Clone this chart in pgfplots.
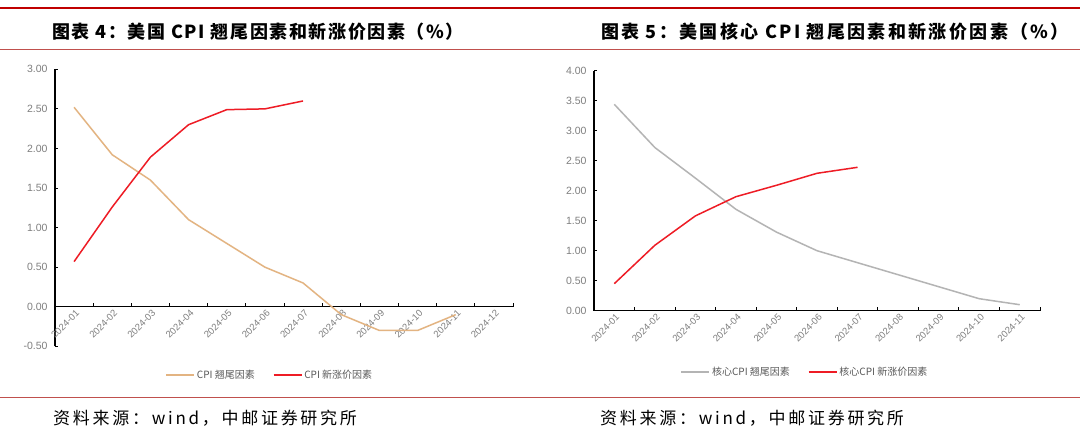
\documentclass[border=0pt]{standalone}
\usepackage{fontspec}
\usepackage{pgfplots}
\pgfplotsset{compat=1.18}
\setmainfont{Liberation Sans}
\newfontfamily\cjk{Noto Sans CJK SC}
\newfontfamily\cjktitle[LetterSpace=9]{Noto Sans CJK SC}
\newfontfamily\cjktitleb[LetterSpace=13]{Noto Sans CJK SC}
\newfontfamily\cjksrc[LetterSpace=16]{Noto Sans CJK SC}
\definecolor{tanline}{HTML}{E3B482}
\definecolor{lred}{HTML}{EE1C25}
\definecolor{lgray}{HTML}{B4B4B4}
\definecolor{topred}{HTML}{C00000}
\definecolor{thinred}{HTML}{C0504D}
\definecolor{ticklab}{HTML}{7F7F7F}
\definecolor{legtext}{HTML}{595959}
\pgfplotsset{
  mystyle/.style={
    scale only axis,
    axis y line*=left,
    tick align=inside,
    axis line style={black, line width=1.2pt},
    xtick={1,...,12},
    xticklabels={2024-01,2024-02,2024-03,2024-04,2024-05,2024-06,2024-07,2024-08,2024-09,2024-10,2024-11,2024-12},
    minor xtick={0.5,1.5,...,12.5},
    minor tick length=4pt,
    major tick length=3pt,
    every major x tick/.append style={draw=none},
    every minor x tick/.append style={black, line width=1pt},
    every major y tick/.append style={black, line width=1pt},
    hide obscured x ticks=false,
    hide obscured y ticks=false,
    /pgf/number format/assume math mode=true,
    yticklabel style={color=ticklab, font=\fontsize{10.5}{11}\selectfont, xshift=-4pt, /pgf/number format/.cd, fixed, fixed zerofill, precision=2},
    xticklabel style={color=ticklab, font=\fontsize{9.5}{10}\selectfont, rotate=45, anchor=east, inner sep=1pt, yshift=-6pt},
    legend style={draw=none, fill=none, legend columns=2, font=\cjk\fontsize{10}{11}\selectfont, text=legtext,
      /tikz/every even column/.append style={column sep=16pt}},
    legend image code/.code={\draw[#1] (0pt,0pt) -- (28pt,0pt);},
    every axis plot/.append style={line width=1.5pt, line join=round},
  }
}
\begin{document}
\begin{tikzpicture}
\useasboundingbox (0pt,0pt) rectangle (1080pt,442pt);
\fill[white] (0pt,0pt) rectangle (1080pt,442pt);
\draw[topred, line width=2.5pt] (0pt,434pt) -- (1080pt,434pt);
\draw[thinred, line width=0.8pt] (0pt,393pt) -- (1080pt,393pt);
\draw[thinred, line width=0.8pt] (0pt,45pt) -- (1080pt,45pt);
\node[anchor=west, inner sep=0pt] at (52pt,410pt) {\cjktitle\bfseries\fontsize{18}{21}\selectfont 图表 4：美国 CPI 翘尾因素和新涨价因素（\%）};
\node[anchor=west, inner sep=0pt] at (601pt,410pt) {\cjktitleb\bfseries\fontsize{18}{21}\selectfont 图表 5：美国核心 CPI 翘尾因素和新涨价因素（\%）};
\node[anchor=west, inner sep=0pt] at (53pt,24pt) {\cjksrc\fontsize{17}{20}\selectfont 资料来源：wind，中邮证券研究所};
\node[anchor=west, inner sep=0pt] at (600pt,24pt) {\cjksrc\fontsize{17}{20}\selectfont 资料来源：wind，中邮证券研究所};

\begin{axis}[mystyle, at={(55pt,95.7pt)}, anchor=south west, width=458pt, height=277pt,
  axis x line*=middle,
  xmin=0.5, xmax=12.5, ymin=-0.5, ymax=3,
  ytick={-0.5,0,0.5,1,1.5,2,2.5,3},
  legend style={at={(0.469,-0.104)}, anchor=center}]
\addplot[tanline] coordinates {(1,2.52)(2,1.92)(3,1.60)(4,1.10)(5,0.80)(6,0.50)(7,0.30)(8,-0.10)(9,-0.30)(10,-0.30)(11,-0.10)};
\addlegendentry{CPI 翘尾因素}
\addplot[lred] coordinates {(1,0.57)(2,1.26)(3,1.89)(4,2.30)(5,2.49)(6,2.50)(7,2.60)};
\addlegendentry{CPI 新涨价因素}
\end{axis}

\begin{axis}[mystyle, at={(594pt,131.3pt)}, anchor=south west, width=446pt, height=240pt,
  axis x line*=bottom,
  xmin=0.5, xmax=11.5, ymin=0, ymax=4,
  ytick={0,0.5,1,1.5,2,2.5,3,3.5,4},
  legend style={at={(0.473,-0.255)}, anchor=center}]
\addplot[lgray] coordinates {(1,3.44)(2,2.72)(3,2.21)(4,1.69)(5,1.31)(6,1.00)(7,0.80)(8,0.60)(9,0.40)(10,0.20)(11,0.10)};
\addlegendentry{核心CPI 翘尾因素}
\addplot[lred] coordinates {(1,0.45)(2,1.09)(3,1.58)(4,1.90)(5,2.09)(6,2.29)(7,2.39)};
\addlegendentry{核心CPI 新涨价因素}
\end{axis}
\end{tikzpicture}
\end{document}
